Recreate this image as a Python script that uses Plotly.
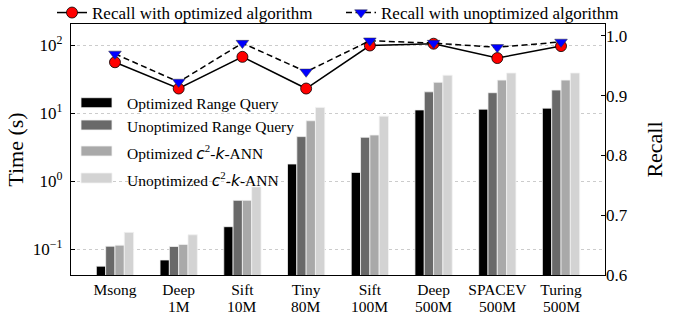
import plotly.graph_objects as go

cat_line1 = ["Msong", "Deep", "Sift", "Tiny", "Sift", "Deep", "SPACEV", "Turing"]
cat_line2 = ["", "1M", "10M", "80M", "100M", "500M", "500M", "500M"]
opt_range = [0.056, 0.069, 0.213, 1.78, 1.34, 11.1, 11.4, 11.8]
unopt_range = [0.11, 0.109, 0.52, 4.5, 4.4, 20.5, 19.9, 21.8]
opt_ann = [0.114, 0.117, 0.52, 7.7, 4.75, 28.3, 30.5, 30.5]
unopt_ann = [0.176, 0.162, 0.82, 12.1, 9.0, 36.0, 38.8, 38.8]
recall_opt = [0.956, 0.912, 0.965, 0.912, 0.984, 0.987, 0.963, 0.983]
recall_unopt = [0.970, 0.923, 0.988, 0.940, 0.992, 0.988, 0.981, 0.990]

bar_names = ["Optimized Range Query", "Unoptimized Range Query",
             "Optimized <span style='font-family:DejaVu Sans'><i>c</i></span><sup>2</sup>-<span style='font-family:DejaVu Sans'><i>k</i></span>-ANN",
             "Unoptimized <span style='font-family:DejaVu Sans'><i>c</i></span><sup>2</sup>-<span style='font-family:DejaVu Sans'><i>k</i></span>-ANN"]
bar_colors = ["#000000", "#696969", "#a9a9a9", "#d3d3d3"]
bar_series = [opt_range, unopt_range, opt_ann, unopt_ann]
line_names = ["Recall with optimized algorithm", "Recall with unoptimized algorithm"]

FONT = "Liberation Serif"
W, H = 678, 316
L, R, T, B = 71, 73, 24, 41
pw, ph = W - L - R, H - T - B

x = list(range(len(cat_line1)))
fig = go.Figure()
for vals, col, name in zip(bar_series, bar_colors, bar_names):
    fig.add_trace(go.Bar(x=x, y=vals, name=name, marker=dict(color=col, line=dict(color="#f2f2f2", width=0.8)),
                         showlegend=False, yaxis="y"))

fig.add_trace(go.Scatter(x=x, y=recall_opt, name=line_names[0], yaxis="y2", mode="lines+markers",
                         line=dict(color="black", width=1.5),
                         marker=dict(symbol="circle", size=11, color="#ff0000", line=dict(color="black", width=0.8))))
fig.add_trace(go.Scatter(x=x, y=recall_unopt, name=line_names[1], yaxis="y2", mode="lines+markers",
                         line=dict(color="black", width=1.5, dash="6px,3.5px"),
                         marker=dict(symbol="triangle-down", size=11, color="#0000ff", line=dict(color="#333333", width=0.5))))

# manual legend for bars
px = lambda v: (v - L) / pw
py = lambda v: (H - B - v) / ph
patch_y = [102.7, 125.0, 151.0, 178.0]
shapes = []
annotations = []
for yc, col, name in zip(patch_y, bar_colors, bar_names):
    shapes.append(dict(type="rect", xref="paper", yref="paper", x0=px(81), x1=px(112),
                       y0=py(yc + 5), y1=py(yc - 5), fillcolor=col, line=dict(color="#f2f2f2", width=0.8)))
    annotations.append(dict(xref="paper", yref="paper", x=px(125), y=py(yc + 1), xanchor="left", yanchor="middle",
                            text=name, showarrow=False, font=dict(family=FONT, size=15.5, color="black")))
# second line of category labels
for xi, t in zip(x, cat_line2):
    if t:
        annotations.append(dict(xref="x", yref="paper", x=xi, y=py(306), xanchor="center", yanchor="middle",
                                text=t, showarrow=False, font=dict(family=FONT, size=15.5, color="black")))

fig.update_layout(
    width=W, height=H, margin=dict(l=L, r=R, t=T, b=B, autoexpand=False),
    paper_bgcolor="white", plot_bgcolor="white",
    font=dict(family=FONT, color="black", size=16),
    barmode="group", bargap=0.415, bargroupgap=0,
    shapes=shapes, annotations=annotations,
    legend=dict(orientation="h", x=px(52), y=py(13), xanchor="left", yanchor="middle",
                font=dict(family=FONT, size=17), bgcolor="rgba(0,0,0,0)",
                entrywidth=244, entrywidthmode="pixels", itemwidth=30),
    xaxis=dict(range=[-0.69, 7.69], tickvals=x, ticktext=cat_line1, ticks="",
               showline=True, mirror=True, linecolor="black", linewidth=1.2, showgrid=False,
               zeroline=False, tickfont=dict(size=15.5)),
    yaxis=dict(type="log", range=[-1.382, 2.309], tickvals=[0.1, 1, 10, 100],
               ticktext=["10<sup>−1</sup>", "10<sup>0</sup>", "10<sup>1</sup>", "10<sup>2</sup>"],
               ticks="inside", ticklen=4, tickcolor="black", showline=True, mirror=True,
               linecolor="black", linewidth=1.2, showgrid=True, gridcolor="#cccccc", griddash="dot",
               gridwidth=0.8, zeroline=False, tickfont=dict(size=17), ticklabelstandoff=4,
               title=dict(text="Time (s)", font=dict(size=22), standoff=3)),
    yaxis2=dict(overlaying="y", side="right", range=[0.6, 1.02], tickvals=[0.6, 0.7, 0.8, 0.9, 1.0],
                ticktext=["0.6", "0.7", "0.8", "0.9", "1.0"], ticks="inside", ticklen=4, tickcolor="black",
                showgrid=False, zeroline=False, showline=False, tickfont=dict(size=17),
                title=dict(text="Recall", font=dict(size=22), standoff=19)),
)
fig.write_html("out.html", config={"displayModeBar": False},
               post_script="document.body.style.margin='0';document.body.style.padding='0';")
